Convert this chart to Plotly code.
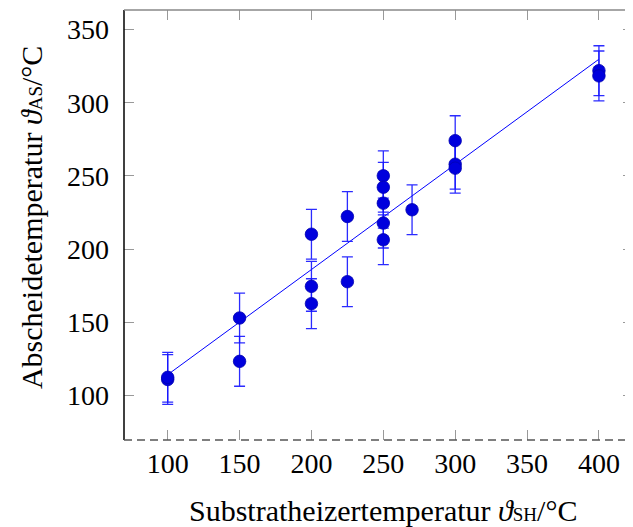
import plotly.graph_objects as go

# Data
sub_temp = [100, 100, 150, 150, 200, 200, 200, 225, 225,
            250, 250, 250, 250, 250, 270, 300, 300, 300, 400, 400]
dep_temp = [111.0, 112.5, 153.0, 123.4, 210.2, 174.6, 162.8, 222.3, 177.8,
            250.1, 242.3, 231.4, 217.8, 206.4, 226.9, 274.1, 258.0, 255.3, 321.9, 318.3]
err = [17] * len(sub_temp)

fit_x = [100, 400]
fit_y = [114.3, 329.7]

x_ticks = [100, 150, 200, 250, 300, 350, 400]
y_ticks = [100, 150, 200, 250, 300, 350]

FONT = "Liberation Serif, Times New Roman, serif"
TICK_SIZE = 28
TITLE_SIZE = 30

fig = go.Figure()
fig.add_trace(go.Scatter(
    x=fit_x, y=fit_y, mode="lines",
    line=dict(color="#0000ff", width=1), hoverinfo="skip", showlegend=False))
fig.add_trace(go.Scatter(
    x=sub_temp, y=dep_temp, mode="markers",
    marker=dict(size=12.5, color="#0000dd", line=dict(color="#0000b0", width=0.8)),
    error_y=dict(type="data", array=err, visible=True, color="rgba(20,20,255,0.9)",
                 thickness=1.3, width=5.5),
    showlegend=False))

fig.update_layout(
    width=625, height=519,
    margin=dict(l=116, r=0, t=2, b=87),
    paper_bgcolor="white", plot_bgcolor="white",
    font=dict(family=FONT, size=TICK_SIZE, color="black"),
    xaxis=dict(range=[69.6, 423.7], tickvals=x_ticks, ticks="inside", ticklen=10,
               tickcolor="#999999", tickwidth=1, showgrid=False, zeroline=False,
               showline=False, mirror="ticks", ticklabelstandoff=4,
               tickfont=dict(family=FONT, size=TICK_SIZE)),
    yaxis=dict(range=[69.7, 363.3], tickvals=y_ticks, ticks="inside", ticklen=10,
               tickcolor="#999999", tickwidth=1, showgrid=False, zeroline=False,
               showline=False, mirror="ticks", ticklabelstandoff=14,
               tickfont=dict(family=FONT, size=TICK_SIZE)),
)

# Axis frame lines
fig.add_shape(type="line", xref="paper", yref="paper", x0=0, x1=0, y0=0, y1=1,
              line=dict(color="black", width=1.5))
fig.add_shape(type="line", xref="paper", yref="paper", x0=0, x1=1, y0=1, y1=1,
              line=dict(color="#888888", width=1.5))
fig.add_shape(type="line", xref="paper", yref="paper", x0=0, x1=1, y0=0, y1=0,
              line=dict(color="#555555", width=1.5, dash="8px,5px"))

# Axis titles
fig.add_annotation(x=250, xref="x", y=0, yref="paper", yshift=-70,
                   text="Substratheizertemperatur <i>ϑ</i><span style='font-size:19px'>SH</span>/°C",
                   showarrow=False, font=dict(family=FONT, size=TITLE_SIZE), yanchor="middle")
fig.add_annotation(x=0, xref="paper", xshift=-93, y=0.516, yref="paper",
                   text="Abscheidetemperatur <i>ϑ</i><span style='font-size:19px'>AS</span>/°C",
                   textangle=-90, showarrow=False, font=dict(family=FONT, size=TITLE_SIZE),
                   xanchor="center", yanchor="middle")

fig.write_html("out.html")
